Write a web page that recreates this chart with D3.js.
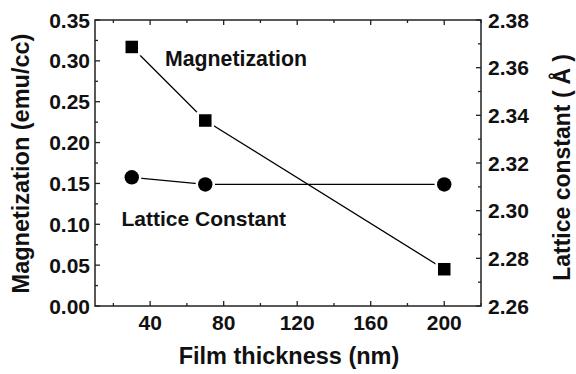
<!DOCTYPE html>
<html>
<head>
<meta charset="utf-8">
<script src="https://cdn.jsdelivr.net/npm/d3@7"></script>
<style>
  body { margin: 0; background: #fff; }
  text { font-family: "Liberation Sans", Arial, sans-serif; font-weight: bold; fill: #111; }
</style>
</head>
<body>
<svg id="chart" width="576" height="374"></svg>
<script>
// data
const thickness = [30, 70, 200];
const magnetization = [0.317, 0.227, 0.045];
const latticeConst = [2.314, 2.311, 2.311];

const xTicks = [40, 80, 120, 160, 200];
const yLeftTicks = [0, 0.05, 0.10, 0.15, 0.20, 0.25, 0.30, 0.35];
const yRightTicks = [2.26, 2.28, 2.30, 2.32, 2.34, 2.36, 2.38];

const width = 576
const height = 374
const margin = { left: 95, right: 95, top: 20, bottom: 68 }

const svg = d3.select("#chart")

const x = d3.scaleLinear().domain([10, 220]).range([margin.left, width - margin.right]);
const yL = d3.scaleLinear().domain([0, 0.35]).range([height - margin.bottom, margin.top]);
const yR = d3.scaleLinear().domain([2.26, 2.38]).range([height - margin.bottom, margin.top]);

const x0 = margin.left, x1 = width - margin.right;
const y0 = height - margin.bottom, y1 = margin.top;

// ticks (inward, major + minor)
const ticks = svg.append("g").attr("stroke", "#222").attr("stroke-width", 1.3);
const xMinor = d3.range(20, 221, 20);
xMinor.forEach(v => {
    const len = xTicks.includes(v) ? 5 : 3;
    ticks.append("line").attr("x1", x(v)).attr("x2", x(v)).attr("y1", y0).attr("y2", y0 - len);
    ticks.append("line").attr("x1", x(v)).attr("x2", x(v)).attr("y1", y1).attr("y2", y1 + len);
});
d3.range(0, 0.3501, 0.025).forEach((v, i) => {
    const len = i % 2 === 0 ? 5 : 3;
    ticks.append("line").attr("x1", x0).attr("x2", x0 + len).attr("y1", yL(v)).attr("y2", yL(v));
});
d3.range(2.26, 2.3801, 0.01).forEach((v, i) => {
    const len = i % 2 === 0 ? 5 : 3;
    ticks.append("line").attr("x1", x1).attr("x2", x1 - len).attr("y1", yR(v)).attr("y2", yR(v));
});

// frame
svg.append("rect")
    .attr("x", x0).attr("y", y1)
    .attr("width", x1 - x0).attr("height", y0 - y1)
    .attr("fill", "none").attr("stroke", "#222").attr("stroke-width", 1.5);

// tick labels
svg.append("g").selectAll("text").data(xTicks).enter().append("text")
    .attr("x", d => x(d)).attr("y", 330)
    .attr("text-anchor", "middle").attr("font-size", 21)
    .text(d => d);
svg.append("g").selectAll("text").data(yLeftTicks).enter().append("text")
    .attr("x", x0 - 5).attr("y", d => yL(d)).attr("dy", "0.36em")
    .attr("text-anchor", "end").attr("font-size", 21)
    .text(d => d.toFixed(2));
svg.append("g").selectAll("text").data(yRightTicks).enter().append("text")
    .attr("x", x1 + 7).attr("y", d => yR(d)).attr("dy", "0.36em")
    .attr("text-anchor", "start").attr("font-size", 21)
    .text(d => d.toFixed(2));

// axis titles
svg.append("text")
    .attr("x", (x0 + x1) / 2 + 1).attr("y", 364)
    .attr("text-anchor", "middle").attr("font-size", 23.5)
    .text("Film thickness (nm)");
svg.append("text")
    .attr("transform", "translate(29," + 163.5 + ") rotate(-90)")
    .attr("text-anchor", "middle").attr("font-size", 23.5)
    .text("Magnetization (emu/cc)");
const rt = svg.append("text")
    .attr("transform", "translate(570," + 167.5 + ") rotate(-90)")
    .attr("text-anchor", "middle").attr("font-size", 23);
rt.append("tspan").text("Lattice constant (");
rt.append("tspan").attr("dx", 6).text("Å");
rt.append("tspan").attr("dx", 6).text(")");

// series lines
const lineM = d3.line().x((d, i) => x(thickness[i])).y(d => yL(d));
const lineL = d3.line().x((d, i) => x(thickness[i])).y(d => yR(d));
svg.append("path").attr("d", lineM(magnetization))
    .attr("fill", "none").attr("stroke", "#000").attr("stroke-width", 1.3);
svg.append("path").attr("d", lineL(latticeConst))
    .attr("fill", "none").attr("stroke", "#000").attr("stroke-width", 1.3);

// markers with a white halo so lines stop short of them
const s = 12.5;
svg.append("g").selectAll("rect").data(magnetization).enter().append("rect")
    .attr("x", (d, i) => x(thickness[i]) - s / 2)
    .attr("y", d => yL(d) - s / 2)
    .attr("width", s).attr("height", s)
    .attr("fill", "#000").attr("stroke", "#fff").attr("stroke-width", 5)
    .attr("paint-order", "stroke");
svg.append("g").selectAll("circle").data(latticeConst).enter().append("circle")
    .attr("cx", (d, i) => x(thickness[i]))
    .attr("cy", d => yR(d))
    .attr("r", 7.2)
    .attr("fill", "#000").attr("stroke", "#fff").attr("stroke-width", 5)
    .attr("paint-order", "stroke");

// annotations
svg.append("text").attr("x", 165).attr("y", 66).attr("font-size", 21.3).text("Magnetization");
svg.append("text").attr("x", 121.5).attr("y", 226).attr("font-size", 21).text("Lattice Constant");
</script>
</body>
</html>
